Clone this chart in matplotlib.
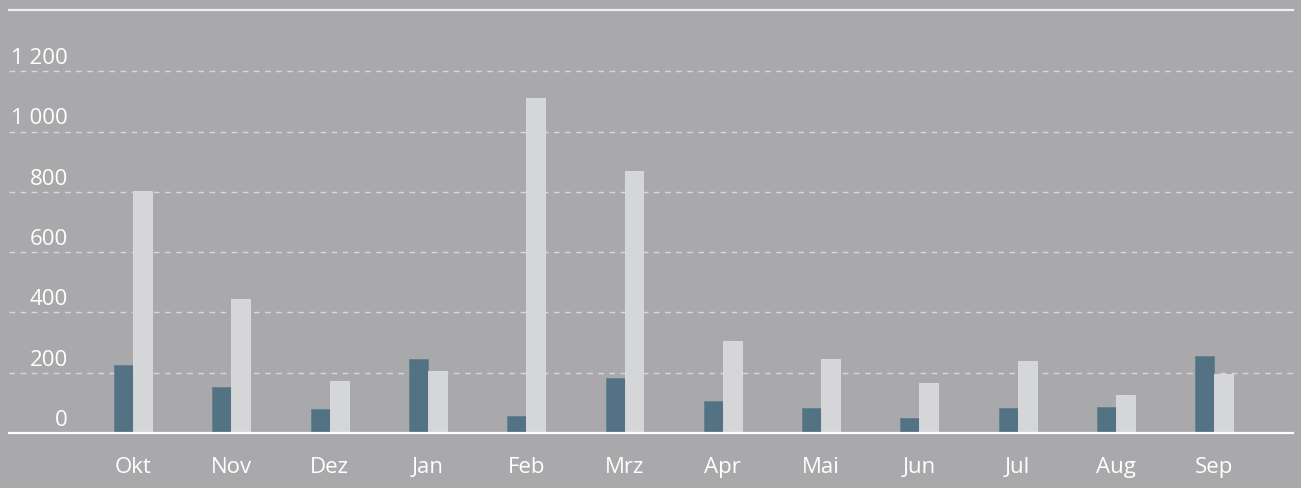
import matplotlib
matplotlib.use("Agg")
import matplotlib.pyplot as plt
import numpy as np
from matplotlib.transforms import blended_transform_factory, offset_copy

months = ["Okt", "Nov", "Dez", "Jan", "Feb", "Mrz", "Apr", "Mai", "Jun", "Jul", "Aug", "Sep"]
series_dark = [225, 152, 80, 245, 56, 182, 106, 83, 51, 82, 87, 256]
series_light = [802, 444, 172, 205, 1110, 869, 304, 246, 165, 238, 126, 196]
yticks = [0, 200, 400, 600, 800, 1000, 1200]
ytick_labels = ["0", "200", "400", "600", "800", "1 000", "1 200"]

bg = "#a9a9ab"
dark = "#537283"
light = "#d5d6d8"

plt.rcParams['font.family'] = ['Open Sans', 'DejaVu Sans']

W, H = 1301, 488
fig = plt.figure(figsize=(W / 100, H / 100), dpi=100, facecolor=bg)
ax = fig.add_axes([9 / W, (H - 433) / H, (1293 - 9) / W, (433 - 10) / H], facecolor=bg)

x = np.arange(len(months))
bw = 0.193
ax.bar(x - bw / 2, series_dark, width=bw, color=dark, edgecolor="#60808f", linewidth=0.6, zorder=3)
ax.bar(x + bw / 2, series_light, width=bw, color=light, edgecolor="#dcdddf", linewidth=0.6, zorder=3)

ax.set_xlim((9 - 133) / 98.3, (1293 - 133) / 98.3)
ax.set_ylim(0, (433 - 10) / 0.3015)

for yv in yticks[1:]:
    ax.axhline(yv, color="#d8d8da", linewidth=1.0, linestyle=(0, (4, 4)), zorder=1)

for s in ["left", "right"]:
    ax.spines[s].set_visible(False)
ax.spines["bottom"].set_color("white")
ax.spines["bottom"].set_linewidth(1.6)
ax.spines["bottom"].set_zorder(4)
ax.spines["top"].set_color("#f0f0f0")
ax.spines["top"].set_linewidth(1.6)

ax.set_yticks([])
ax.set_xticks(x)
ax.set_xticklabels(months, fontsize=16, color="white")
ax.tick_params(axis="x", length=0, pad=17)

trans = blended_transform_factory(ax.transAxes, ax.transData)
trans = offset_copy(trans, fig=fig, x=0, y=7, units="dots")
for yv, lab in zip(yticks, ytick_labels):
    ax.text((68 - 9) / (1293 - 9), yv, lab, transform=trans, ha="right", va="baseline",
            fontsize=16, color="white")

fig.savefig("out.png", dpi=100, facecolor=bg)
